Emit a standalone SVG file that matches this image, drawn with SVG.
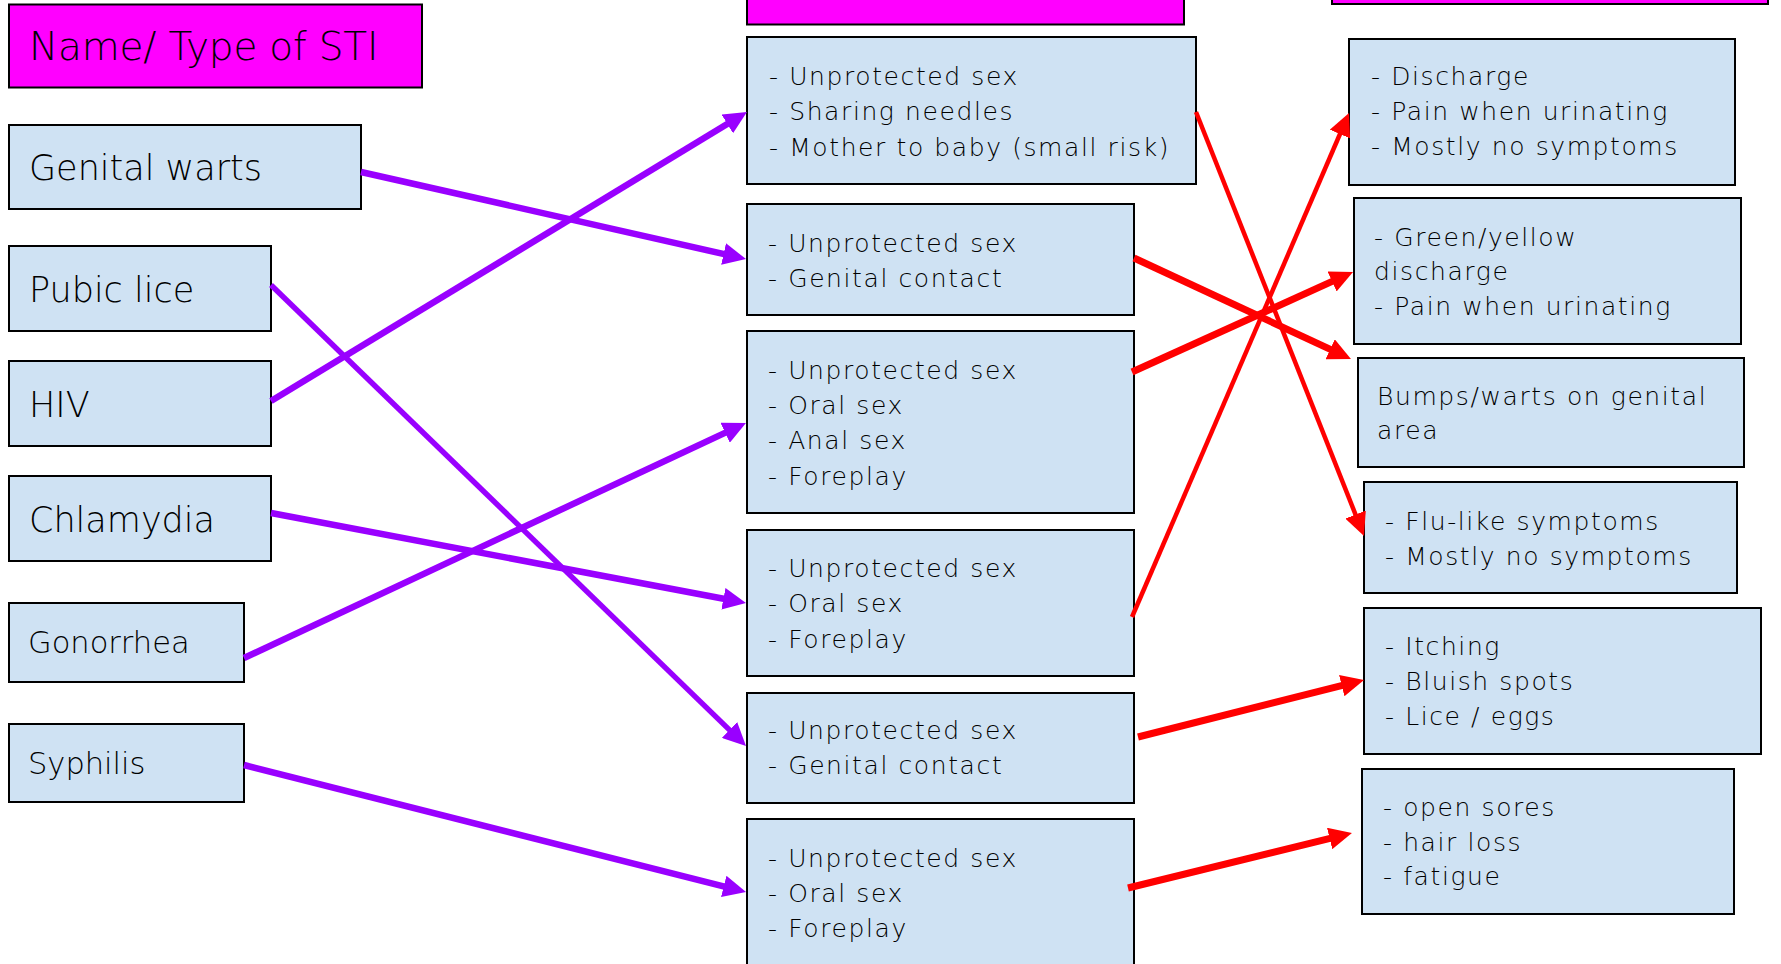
<svg xmlns="http://www.w3.org/2000/svg" width="1781" height="964" viewBox="0 0 1781 964">
<defs>
<style>
.box{fill:#cfe2f3;stroke:#000;stroke-width:2}
.hdr{fill:#ff00ff;stroke:#000;stroke-width:2}
text{font-family:"DejaVu Sans","Liberation Sans",sans-serif;font-weight:300;fill:#000}
.big{font-size:35px}
.mid{font-size:30.5px}
.hd{font-size:39px;letter-spacing:-0.2px}
.sm{font-size:25px;letter-spacing:1.6px}
.pu{stroke:#9900ff;stroke-width:6.5;fill:none;marker-end:url(#ap)}
.rd{stroke:#ff0000;stroke-width:7;fill:none;marker-end:url(#ar)}
.thin{stroke-width:4.5}
</style>
<marker id="ap" markerUnits="userSpaceOnUse" viewBox="0 0 23 22" markerWidth="23" markerHeight="22" refX="11" refY="11" orient="auto"><path d="M0,0 L23,11 L0,22 z" fill="#9900ff"/></marker>
<marker id="ar" markerUnits="userSpaceOnUse" viewBox="0 0 23 22" markerWidth="23" markerHeight="22" refX="11" refY="11" orient="auto"><path d="M0,0 L23,11 L0,22 z" fill="#ff0000"/></marker>
</defs>
<rect width="1781" height="964" fill="#fff"/>

<g id="hdr-name"><rect class="hdr" x="9" y="4.5" width="413" height="83"/><text class="hd" x="29" y="60">Name/ Type of STI</text></g>
<g id="hdr-mid"><rect class="hdr" x="747" y="-10" width="437" height="34.5"/></g>
<g id="hdr-right"><rect class="hdr" x="1332" y="-10" width="436" height="14"/></g>

<g id="n-warts"><rect class="box" x="9" y="125" width="352" height="84"/><text class="big" x="29" y="180">Genital warts</text></g>
<g id="n-lice"><rect class="box" x="9" y="246" width="262" height="85"/><text class="big" x="29" y="302">Pubic lice</text></g>
<g id="n-hiv"><rect class="box" x="9" y="361" width="262" height="85"/><text class="big" x="29" y="417">HIV</text></g>
<g id="n-chlam"><rect class="box" x="9" y="476" width="262" height="85"/><text class="big" x="29" y="532">Chlamydia</text></g>
<g id="n-gono"><rect class="box" x="9" y="603" width="235" height="79"/><text class="mid" x="28" y="653">Gonorrhea</text></g>
<g id="n-syph"><rect class="box" x="9" y="724" width="235" height="78"/><text class="mid" x="28" y="774">Syphilis</text></g>

<g id="m1"><rect class="box" x="747" y="37" width="449" height="147"/><text class="sm"><tspan x="769" y="85">- Unprotected sex</tspan><tspan x="769" y="120">- Sharing needles</tspan><tspan x="769" y="156">- Mother to baby (small risk)</tspan></text></g>
<g id="m2"><rect class="box" x="747" y="204" width="387" height="111"/><text class="sm"><tspan x="768" y="252">- Unprotected sex</tspan><tspan x="768" y="287">- Genital contact</tspan></text></g>
<g id="m3"><rect class="box" x="747" y="331" width="387" height="182"/><text class="sm"><tspan x="768" y="379">- Unprotected sex</tspan><tspan x="768" y="414">- Oral sex</tspan><tspan x="768" y="449">- Anal sex</tspan><tspan x="768" y="485">- Foreplay</tspan></text></g>
<g id="m4"><rect class="box" x="747" y="530" width="387" height="146"/><text class="sm"><tspan x="768" y="577">- Unprotected sex</tspan><tspan x="768" y="612">- Oral sex</tspan><tspan x="768" y="648">- Foreplay</tspan></text></g>
<g id="m5"><rect class="box" x="747" y="693" width="387" height="110"/><text class="sm"><tspan x="768" y="739">- Unprotected sex</tspan><tspan x="768" y="774">- Genital contact</tspan></text></g>
<g id="m6"><rect class="box" x="747" y="819" width="387" height="160"/><text class="sm"><tspan x="768" y="867">- Unprotected sex</tspan><tspan x="768" y="902">- Oral sex</tspan><tspan x="768" y="937">- Foreplay</tspan></text></g>

<g id="r1"><rect class="box" x="1349" y="39" width="386" height="146"/><text class="sm"><tspan x="1371" y="85">- Discharge</tspan><tspan x="1371" y="120">- Pain when urinating</tspan><tspan x="1371" y="155">- Mostly no symptoms</tspan></text></g>
<g id="r2"><rect class="box" x="1354" y="198" width="387" height="146"/><text class="sm"><tspan x="1374" y="246">- Green/yellow</tspan><tspan x="1374" y="280">discharge</tspan><tspan x="1374" y="315">- Pain when urinating</tspan></text></g>
<g id="r3"><rect class="box" x="1358" y="358" width="386" height="109"/><text class="sm"><tspan x="1377" y="405">Bumps/warts on genital</tspan><tspan x="1377" y="439">area</tspan></text></g>
<g id="r4"><rect class="box" x="1364" y="482" width="373" height="111"/><text class="sm"><tspan x="1385" y="530">- Flu-like symptoms</tspan><tspan x="1385" y="565">- Mostly no symptoms</tspan></text></g>
<g id="r5"><rect class="box" x="1364" y="608" width="397" height="146"/><text class="sm"><tspan x="1385" y="655">- Itching</tspan><tspan x="1385" y="690">- Bluish spots</tspan><tspan x="1385" y="725">- Lice / eggs</tspan></text></g>
<g id="r6"><rect class="box" x="1362" y="769" width="372" height="145"/><text class="sm"><tspan x="1383" y="816">- open sores</tspan><tspan x="1383" y="851">- hair loss</tspan><tspan x="1383" y="885">- fatigue</tspan></text></g>

<g id="connectors">
<line class="pu" x1="361" y1="172" x2="734.3" y2="256.4"/>
<line class="pu" x1="271" y1="285" x2="737.4" y2="737.6" style="stroke-width:5.5"/>
<line class="pu" x1="271" y1="401" x2="736.7" y2="118.2"/>
<line class="pu" x1="271" y1="513" x2="734.2" y2="600.8"/>
<line class="pu" x1="244" y1="658" x2="735.1" y2="428.1"/>
<line class="pu" x1="244" y1="765" x2="734.4" y2="889.1"/>
<line class="rd thin" x1="1196" y1="112" x2="1359.6" y2="524.8"/>
<line class="rd" x1="1134" y1="258" x2="1340.1" y2="353.9"/>
<line class="rd" x1="1132" y1="372" x2="1342.1" y2="276.9"/>
<line class="rd thin" x1="1132" y1="617" x2="1344.3" y2="124"/>
<line class="rd" x1="1138" y1="737" x2="1352.4" y2="682.9"/>
<line class="rd" x1="1128" y1="888" x2="1340.3" y2="835.9"/>
</g>
</svg>
